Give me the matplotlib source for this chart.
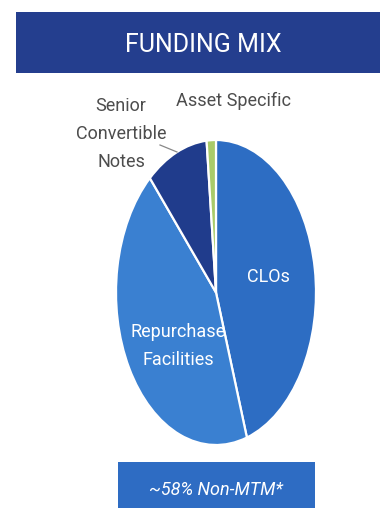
import matplotlib
matplotlib.use("Agg")
import matplotlib.pyplot as plt
from matplotlib.patches import Rectangle

# datos
categorias = ["CLOs", "Repurchase Facilities", "Senior Convertible Notes", "Asset Specific"]
valores = [45.0, 43.5, 10.0, 1.5]
colores = ["#2D6DC3", "#3A80D1", "#203C8C", "#A9CB6A"]
titulo = "FUNDING MIX"
nota = "~58% Non-MTM*"

W, H = 380, 508
fuente = ["Roboto", "DejaVu Sans"]

fig = plt.figure(figsize=(W / 100, H / 100), dpi=100)
fig.patch.set_facecolor("white")

def px(x, y):
    return x / W, 1 - y / H

# barra titulo
fig.patches.append(Rectangle(px(16, 73), (W - 16) / W, 61 / H, transform=fig.transFigure,
                             facecolor="#243E8E", edgecolor="none"))
fig.text(*px(203, 45), titulo, color="white", fontsize=18, ha="center", va="center", family=fuente)

# pie (eliptico)
ax = fig.add_axes([116 / W, 1 - 445 / H, 200 / W, 305 / H])
ax.pie(valores, colors=colores, startangle=90, counterclock=False,
       wedgeprops=dict(edgecolor="white", linewidth=1.6))
ax.set_aspect("auto")
ax.set_xlim(-1, 1)
ax.set_ylim(-1, 1)
ax.axis("off")

# etiquetas
fig.text(*px(268, 277), "CLOs", color="white", fontsize=13, ha="center", va="center", family=fuente)
fig.text(*px(178, 346), "Repurchase\nFacilities", color="white", fontsize=13, ha="center",
         va="center", linespacing=1.75, family=fuente)
fig.text(*px(121, 134), "Senior\nConvertible\nNotes", color="#4D4D4D", fontsize=13, ha="center",
         va="center", linespacing=1.7, family=fuente)
fig.text(*px(234, 101), "Asset Specific", color="#4D4D4D", fontsize=13, ha="center",
         va="center", family=fuente)
fig.add_artist(plt.Line2D([160 / W, 177 / W], [1 - 145 / H, 1 - 152 / H], color="#888888", lw=0.9))

# caja inferior
fig.patches.append(Rectangle(px(118, H), 197 / W, 46 / H, transform=fig.transFigure,
                             facecolor="#2E6CC3", edgecolor="none"))
fig.text(*px(216, 490), nota, color="white", fontsize=13, style="italic", ha="center",
         va="center", family=fuente)

fig.savefig("out.png", dpi=100)
